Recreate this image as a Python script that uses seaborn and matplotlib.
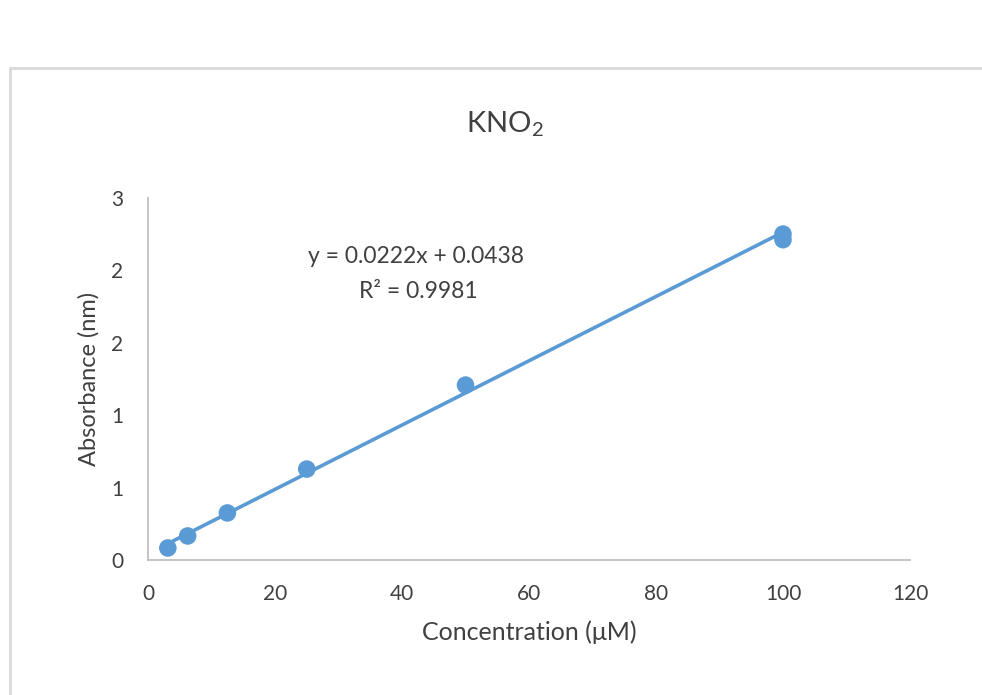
import matplotlib
matplotlib.use("Agg")
import matplotlib.pyplot as plt
from matplotlib.patches import Rectangle
from matplotlib.ticker import FixedLocator, FixedFormatter
import numpy as np
import pandas as pd
import seaborn as sns

# Calibration standards for KNO2
concentration = [3.125, 6.25, 12.5, 25, 50, 100, 100]
absorbance = [0.083, 0.166, 0.325, 0.628, 1.208, 2.251, 2.212]

# Linear fit reported on the chart
slope = 0.0222
intercept = 0.0438
r_squared = 0.9981

x_ticks = [0, 20, 40, 60, 80, 100, 120]
x_tick_labels = ["0", "20", "40", "60", "80", "100", "120"]
y_ticks = [0, 0.5, 1.0, 1.5, 2.0, 2.5]
y_tick_labels = ["0", "1", "1", "2", "2", "3"]

blue = "#5B9BD5"
axis_grey = "#BFBFBF"
text_grey = "#404040"

sns.set_theme(style="white")
plt.rcParams["font.family"] = ["Lato", "DejaVu Sans"]
plt.rcParams["mathtext.fontset"] = "custom"
plt.rcParams["mathtext.rm"] = "Lato"

fig = plt.figure(figsize=(9.82, 6.95), dpi=100)
ax = fig.add_axes([148 / 982, 1 - 560 / 695, (910 - 148) / 982, (560 - 198) / 695])

# chart-area frame
fig.patches.append(Rectangle((10 / 982, -0.1), 1.2, 1.1 - 68 / 695,
                             transform=fig.transFigure, fill=False,
                             edgecolor="#D9D9D9", linewidth=2, zorder=0))

df = pd.DataFrame({"Concentration": concentration, "Absorbance": absorbance})
x_fit = np.array([min(concentration), max(concentration)])
fit = pd.DataFrame({"x": x_fit, "y": slope * x_fit + intercept})

sns.lineplot(data=fit, x="x", y="y", ax=ax, color=blue, linewidth=2.6, zorder=2)
sns.scatterplot(data=df, x="Concentration", y="Absorbance", ax=ax, color=blue,
                s=160, edgecolor="none", zorder=3)

ax.set_xlim(0, 120)
ax.set_ylim(0, 2.5)
ax.xaxis.set_major_locator(FixedLocator(x_ticks))
ax.xaxis.set_major_formatter(FixedFormatter(x_tick_labels))
ax.yaxis.set_major_locator(FixedLocator(y_ticks))
ax.yaxis.set_major_formatter(FixedFormatter(y_tick_labels))
ax.tick_params(axis="both", length=0, labelsize=15, labelcolor=text_grey)
ax.tick_params(axis="x", pad=17)
ax.tick_params(axis="y", pad=18)

for side in ["top", "right"]:
    ax.spines[side].set_visible(False)
for side in ["left", "bottom"]:
    ax.spines[side].set_color(axis_grey)
    ax.spines[side].set_linewidth(1.3)

ax.set_xlabel("Concentration (μM)", fontsize=18, color=text_grey, labelpad=12)
ax.set_ylabel("Absorbance (nm)", fontsize=17, color=text_grey, labelpad=8)

fig.text(505 / 982, 1 - 124 / 695, r"KNO$_2$", ha="center", va="center",
         fontsize=21, color=text_grey)

fig.text(416 / 982, 1 - 256 / 695, f"y = {slope}x + {intercept}",
         ha="center", va="center", fontsize=16.5, color=text_grey)
fig.text(418 / 982, 1 - 291 / 695, f"R² = {r_squared}",
         ha="center", va="center", fontsize=16.5, color=text_grey)

fig.savefig("out.png", dpi=100)
